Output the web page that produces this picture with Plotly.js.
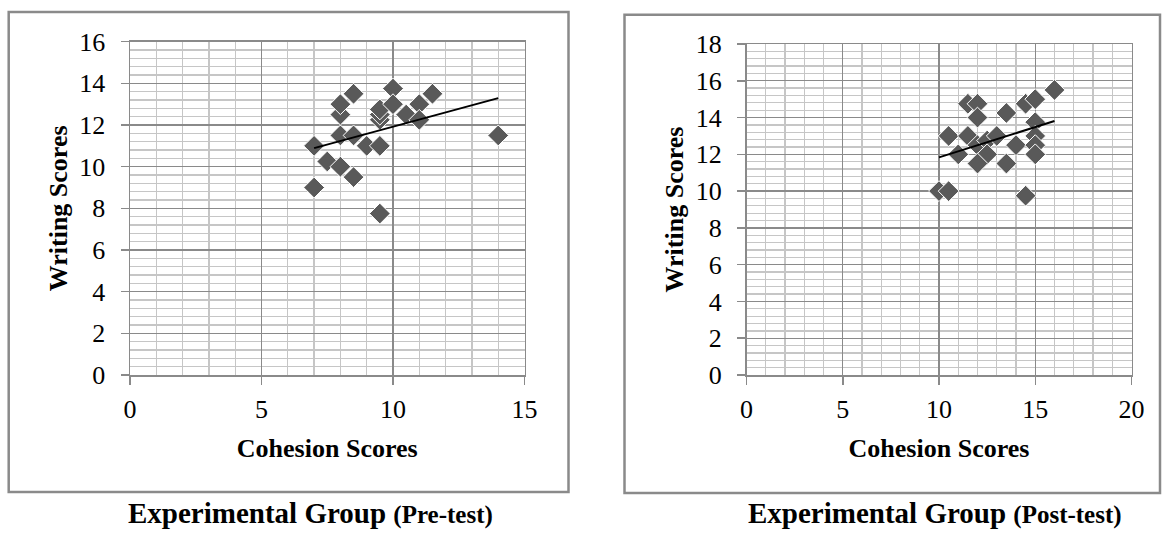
<!DOCTYPE html>
<html>
<head>
<meta charset="utf-8">
<script src="https://cdn.plot.ly/plotly-3.0.1.min.js"></script>
<style>html,body{margin:0;padding:0;background:#fff;}#chart{width:1162px;height:535px;}</style>
</head>
<body>
<div id="chart"></div>
<script>
// Experimental Group (Pre-test)
const preCohesion = [7, 7, 7.5, 8, 8.5, 8, 8.5, 8, 8, 8.5, 9, 9.5, 9.5, 9.5, 9.5, 9.5, 10, 10, 10.5, 11, 11, 11.5, 14];
const preWriting  = [11, 9, 10.25, 10, 9.5, 11.5, 11.5, 12.5, 13, 13.5, 11, 11, 7.75, 12.25, 12.5, 12.75, 13.75, 13, 12.5, 13, 12.25, 13.5, 11.5];
// Experimental Group (Post-test)
const postCohesion = [10, 10.5, 10.5, 11, 11.5, 12, 12, 11.5, 12, 12.5, 12.5, 12, 13, 13.5, 13.5, 14, 14.5, 15, 14.5, 15, 15, 15, 15, 16];
const postWriting  = [10, 10, 13, 12, 14.75, 14.75, 14, 13, 12.5, 12.75, 12, 11.5, 13, 14.25, 11.5, 12.5, 14.75, 15, 9.75, 13.75, 13, 12.5, 12, 15.5];

const xTitle = 'Cohesion Scores';
const yTitle = 'Writing Scores';
const captionMain = 'Experimental Group';
const captionPre = '(Pre-test)';
const captionPost = '(Post-test)';

function fit(xs, ys) {
  const n = xs.length;
  const mx = xs.reduce((a, b) => a + b, 0) / n;
  const my = ys.reduce((a, b) => a + b, 0) / n;
  let sxy = 0, sxx = 0;
  for (let i = 0; i < n; i++) { sxy += (xs[i] - mx) * (ys[i] - my); sxx += (xs[i] - mx) ** 2; }
  const b = sxy / sxx, a = my - b * mx;
  const x0 = Math.min(...xs), x1 = Math.max(...xs);
  return { x: [x0, x1], y: [a + b * x0, a + b * x1] };
}

const W = 1162, H = 535;
const serif = 'Liberation Serif, Times New Roman, serif';
const markerStyle = { symbol: 'diamond', size: 16, color: '#595959', line: { color: '#ffffff', width: 1 } };

const preFit = fit(preCohesion, preWriting);
const postFit = fit(postCohesion, postWriting);

const traces = [
  { x: preCohesion, y: preWriting, type: 'scatter', mode: 'markers', marker: markerStyle, xaxis: 'x', yaxis: 'y' },
  { x: preFit.x, y: preFit.y, type: 'scatter', mode: 'lines', line: { color: '#000', width: 2 }, xaxis: 'x', yaxis: 'y' },
  { x: postCohesion, y: postWriting, type: 'scatter', mode: 'markers', marker: markerStyle, xaxis: 'x2', yaxis: 'y2' },
  { x: postFit.x, y: postFit.y, type: 'scatter', mode: 'lines', line: { color: '#000', width: 2 }, xaxis: 'x2', yaxis: 'y2' }
];

function xAxis(domain, max, anchor) {
  return {
    domain: domain, range: [0, max], anchor: anchor, tick0: 0, dtick: 5,
    showgrid: true, gridcolor: '#8a8a8a', gridwidth: 1.3,
    minor: { dtick: 1, showgrid: true, gridcolor: '#c6c6c6', gridwidth: 1.3, ticks: '' },
    showline: true, linecolor: '#8a8a8a', linewidth: 1.5, mirror: true,
    ticks: 'outside', ticklen: 8, tickcolor: '#8a8a8a', tickwidth: 1.5,
    ticklabelstandoff: 2,
    tickfont: { family: serif, size: 26, color: '#000' },
    zeroline: false, automargin: false, fixedrange: true,
    title: { text: '<b>' + xTitle + '</b>', font: { family: serif, size: 26, color: '#000' }, standoff: 16 }
  };
}
function yAxis(domain, max, anchor) {
  return {
    domain: domain, range: [0, max], anchor: anchor, tick0: 0, dtick: 2,
    showgrid: true, gridcolor: '#8a8a8a', gridwidth: 1.3,
    minor: { dtick: 0.4, showgrid: true, gridcolor: '#c6c6c6', gridwidth: 1.3, ticks: '' },
    showline: true, linecolor: '#8a8a8a', linewidth: 1.5, mirror: true,
    ticks: 'outside', ticklen: 8, tickcolor: '#8a8a8a', tickwidth: 1.5,
    ticklabelstandoff: 10,
    tickfont: { family: serif, size: 26, color: '#000' },
    zeroline: false, automargin: false, fixedrange: true,
    title: { text: '<b>' + yTitle + '</b>', font: { family: serif, size: 26, color: '#000' }, standoff: 4 }
  };
}

const yDomBottom = (H - 375) / H;
const layout = {
  width: W, height: H,
  margin: { l: 0, r: 0, t: 0, b: 0 },
  paper_bgcolor: '#fff', plot_bgcolor: '#fff',
  showlegend: false,
  xaxis: xAxis([130 / W, 524.5 / W], 15, 'y'),
  yaxis: yAxis([yDomBottom, (H - 41.7) / H], 16, 'x'),
  xaxis2: xAxis([746.5 / W, 1131.5 / W], 20, 'y2'),
  yaxis2: yAxis([yDomBottom, (H - 44) / H], 18, 'x2'),
  shapes: [
    { type: 'rect', xref: 'paper', yref: 'paper', x0: 8.7 / W, x1: 568.5 / W, y0: (H - 492) / H, y1: (H - 12) / H, line: { color: '#8a8a8a', width: 2.5 } },
    { type: 'rect', xref: 'paper', yref: 'paper', x0: 624.5 / W, x1: 1160 / W, y0: (H - 493) / H, y1: (H - 14.7) / H, line: { color: '#8a8a8a', width: 2.5 } }
  ],
  annotations: [
    { xref: 'paper', yref: 'paper', x: 310 / W, y: (H - 513) / H, xanchor: 'center', yanchor: 'middle', showarrow: false,
      text: '<b>' + captionMain + ' <span style="font-size:25px">' + captionPre + '</span></b>', font: { family: serif, size: 29, color: '#000' } },
    { xref: 'paper', yref: 'paper', x: 935 / W, y: (H - 513) / H, xanchor: 'center', yanchor: 'middle', showarrow: false,
      text: '<b>' + captionMain + ' <span style="font-size:25px">' + captionPost + '</span></b>', font: { family: serif, size: 29, color: '#000' } }
  ]
};

Plotly.newPlot('chart', traces, layout, { displayModeBar: false, staticPlot: true });
</script>
</body>
</html>
